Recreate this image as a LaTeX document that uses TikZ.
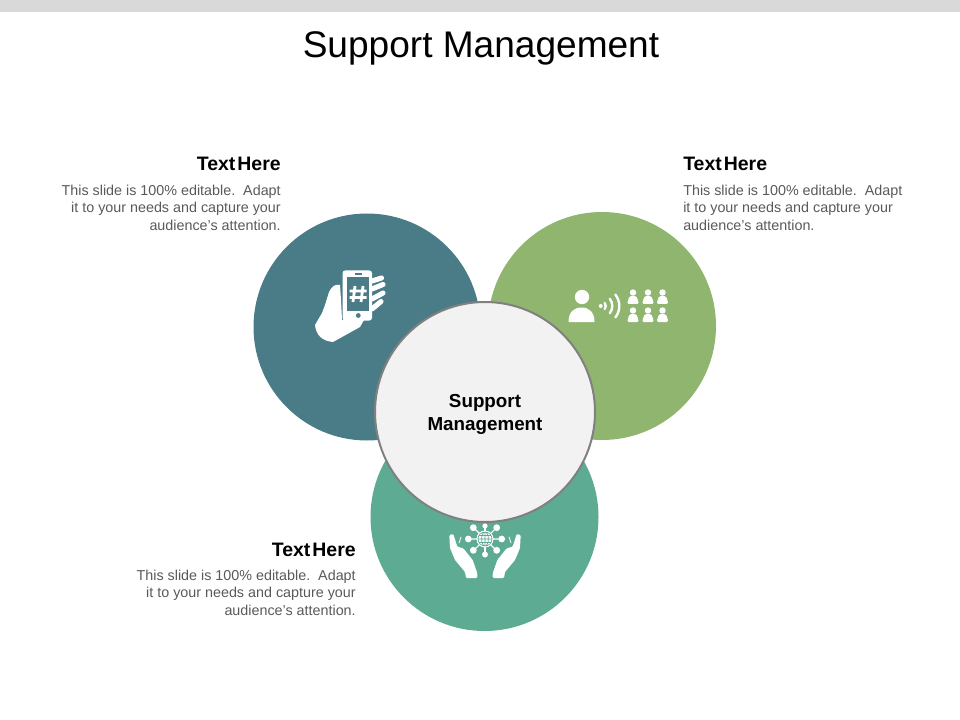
\documentclass[tikz,border=0pt]{standalone}
\usepackage{fontspec}
\setmainfont{Liberation Sans}
\definecolor{tealcol}{HTML}{4A7C87}
\definecolor{greencol}{HTML}{8FB56E}
\definecolor{seacol}{HTML}{5DAB93}
\definecolor{bodycol}{HTML}{595959}
\tikzset{
  headtext/.style={font=\fontsize{14.6}{16}\selectfont\bfseries, text=black, inner sep=0pt},
  bodyright/.style={font=\fontsize{10.75}{13.15}\selectfont, text=bodycol, inner sep=0pt, align=right},
  bodyleft/.style={font=\fontsize{10.75}{13.15}\selectfont, text=bodycol, inner sep=0pt, align=left},
  iconline/.style={draw=white, line cap=round}
}
\begin{document}
\begin{tikzpicture}[x=0.75pt,y=-0.75pt]
\useasboundingbox (0,0) rectangle (960,720);

%draw the top bar and the title
\fill[black!15] (0,0) rectangle (960,12);
\node (title) [font=\fontsize{27.8}{32}\selectfont, inner sep=0pt] at (481,48.5) {Support Management};

%draw the circles
\fill[tealcol] (367,327) circle (113.5);
\fill[greencol] (602,326) circle (114);
\fill[seacol] (484.5,517) circle (114);
\node (centre) [circle, draw=black!50, line width=1.5pt, fill=black!5, minimum size=165pt, inner sep=0pt] at (485,412) {};
\node (centrelabel) [inner sep=0pt, align=center, font=\fontsize{14.1}{17.25}\selectfont\bfseries] at (485,414.5) {Support\\Management};

%draw the texts
\node (headleft) [headtext, anchor=east] at (281,164) {Text\hspace{1.5pt}Here};
\node (bodyleft) [bodyright, anchor=north east] at (281,184.5) {This slide is 100\% editable.\ \ Adapt\\it to your needs and capture your\\audience's attention.};
\node (headright) [headtext, anchor=west] at (683,164) {Text\hspace{1.5pt}Here};
\node (bodyright) [bodyleft, anchor=north west] at (683,184.5) {This slide is 100\% editable.\ \ Adapt\\it to your needs and capture your\\audience's attention.};
\node (headlow) [headtext, anchor=east] at (356,550) {Text\hspace{1.5pt}Here};
\node (bodylow) [bodyright, anchor=north east] at (356,569.5) {This slide is 100\% editable.\ \ Adapt\\it to your needs and capture your\\audience's attention.};

%draw the hand with the phone
\fill[white] (340,285) .. controls (335,284) and (332,286) .. (329,292) -- (325,305) -- (322,313) -- (315,325) .. controls (316,335) and (322,341) .. (333,342) -- (360,327) -- (364,320) -- (342,320) -- (341,300) -- cycle;
\draw[iconline, line width=3.8pt] (372,281) -- (381.5,278);
\draw[iconline, line width=3.8pt] (372,289) -- (383,284.5);
\draw[iconline, line width=3.8pt] (372,299) -- (383,293);
\draw[iconline, line width=3.8pt] (372,309) -- (381,301.5);
\fill[white, rounded corners=2pt] (342.5,270.5) rectangle (372,320.5);
\fill[tealcol] (347,277.5) rectangle (368.5,311);
\fill[tealcol] (358.3,315.5) circle (2.4);
\draw[tealcol, line width=0.9pt] (354.5,274) -- (362,274);
\draw[white, line width=2.1pt] (355,286) -- (353,302) (363,286) -- (361,302) (349.5,291) -- (366.5,291) (349.5,297.5) -- (366.5,297.5);

%draw the speaker and the people
\fill[white] (582,297) circle (7.2);
\fill[white] (568.5,322) .. controls (568.5,312) and (574,307.5) .. (581.5,307.5) .. controls (589,307.5) and (594.5,312) .. (594.5,322) -- cycle;
\fill[white] (600.7,306) circle (2);
\foreach \r in {5,11.6,18.6}
  \draw[iconline, line width=1.8pt] (600.7,306) ++(-38:\r) arc (-38:38:\r);
\foreach \px in {633,648,662.5}
  \foreach \py in {292.5,310.5} {
    \fill[white] (\px,\py) circle (3.2);
    \fill[white, rounded corners=1.2pt] (\px-3.5,\py+3.5) -- (\px+3.5,\py+3.5) -- (\px+6,\py+11.5) -- (\px-6,\py+11.5) -- cycle;
  }

%draw the hands and the globe
\foreach \s in {-1,1} {
  \begin{scope}[shift={(485,0)}, xscale=\s]
    \fill[white, rounded corners=0.8pt] (35.7,535) -- (31.7,534) -- (27.7,546.7) -- (21.7,548.3) -- (12.3,560) -- (7.7,573.3) -- (7.7,578) -- (19,578) -- (20,572) -- (30,560) -- (35,548) -- cycle;
    \draw[iconline, line width=0.6pt] (24,537) -- (26,543);
    \draw[iconline, line width=0.8pt] (0,539) -- (16,539) (0,539) -- (11.5,527.5) (0,539) -- (11.5,550.5);
    \fill[white] (16.7,539) circle (3.4);
    \fill[white] (11.7,527.7) circle (3.4);
    \fill[white] (11.7,550.3) circle (3.4);
  \end{scope}
}
\draw[iconline, line width=0.8pt] (485,525) -- (485,555);
\fill[white] (485,526) circle (2.6);
\fill[white] (485,554.5) circle (3);
\fill[white] (485,539) circle (8.5);
\draw[seacol, line width=0.5pt] (485,539) circle (7) (478,539) -- (492,539) (485,532) -- (485,546) (479,535.5) -- (491,535.5) (479,542.5) -- (491,542.5) (485,539) ellipse (3.4 and 7);

\end{tikzpicture}
\end{document}
